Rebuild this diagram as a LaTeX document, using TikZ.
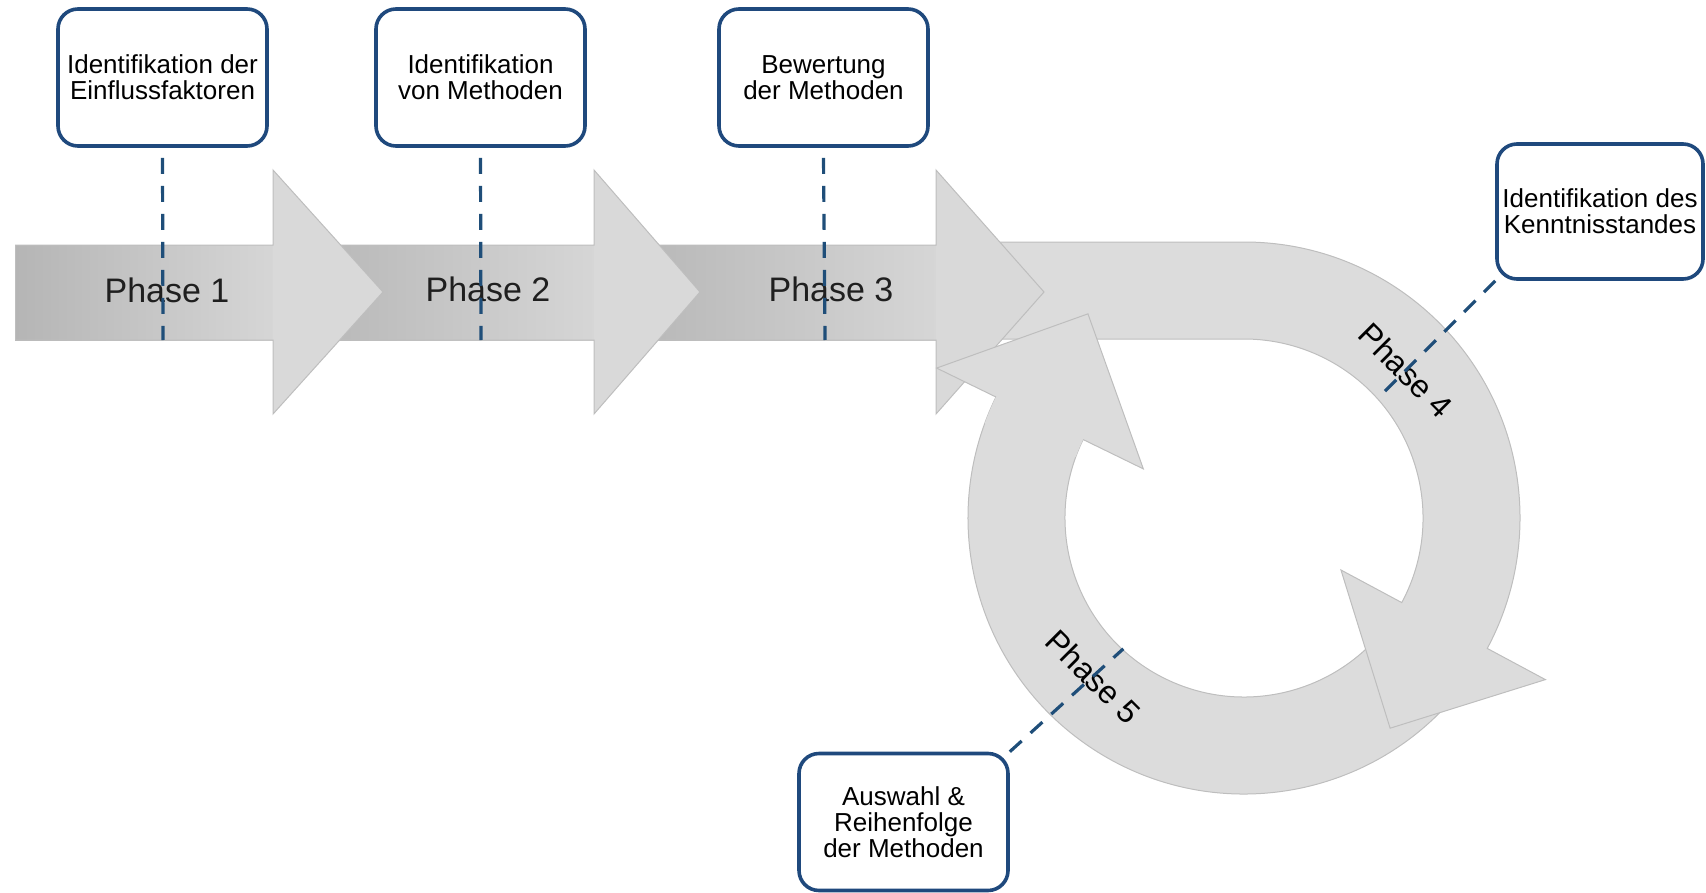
\documentclass[tikz,border=0pt]{standalone}
\usepackage{fontspec}
\setmainfont{Liberation Sans}
\usetikzlibrary{calc}

\definecolor{boxblue}{HTML}{1F497D}
\definecolor{linkblue}{HTML}{1F4E79}
\definecolor{headfill}{HTML}{D9D9D9}
\definecolor{ringfill}{HTML}{DCDCDC}
\definecolor{bodydark}{HTML}{B5B5B5}
\definecolor{bodylight}{HTML}{D6D6D6}
\definecolor{edgegray}{HTML}{BEBEBE}

\begin{document}
\begin{tikzpicture}[x=0.5pt, y=0.5pt,
  notebox/.style={draw=boxblue, line width=1.8pt, rounded corners=10pt, fill=white,
    minimum width=104.5pt, minimum height=68.5pt, inner sep=1pt, align=center,
    font=\fontsize{13}{13}\selectfont},
  phaselabel/.style={font=\fontsize{17}{20}\selectfont, text=black!88, inner sep=0pt},
  ringlabel/.style={font=\fontsize{16}{19}\selectfont, text=black, inner sep=0pt, rotate=-45},
  link/.style={draw=linkblue, line width=1.6pt, dash pattern=on 8pt off 6pt},
  outline/.style={draw=edgegray, line width=0.5pt},
  body/.style={left color=bodydark, right color=bodylight},
]
\useasboundingbox (0,0) rectangle (1706,-893);

\coordinate (C) at (1244,-518);

% lower half of the cycle (phase 5 body)
\filldraw[fill=ringfill, outline] ($(C)+(-35:276)$) arc[start angle=-35, end angle=-206, radius=276]
  -- ($(C)+(154:179)$) arc[start angle=154, end angle=325, radius=179] -- cycle;

% phase 4: straight band bending into the cycle
\filldraw[fill=ringfill, outline] (950,-242) -- (1244,-242)
  arc[start angle=90, end angle=-28.2, radius=276]
  -- ($(C)+(-28.2:342)$) -- ($(C)+(-55.2:256)$) -- ($(C)+(-28.2:110)$)
  -- ($(C)+(-28.2:179)$) arc[start angle=-28.2, end angle=90, radius=179]
  -- (950,-339) -- cycle;

% phase arrows 3, 2, 1 (each body tucked under the previous head)
\foreach \xa/\xb/\xt in {611/936/1044, 290/594/700, 15/273/383} {
  \shade[body] (\xa,-245) rectangle (\xb+2,-340);
  \fill[headfill] (\xb,-170) -- (\xt,-292) -- (\xb,-414) -- cycle;
  \draw[outline] (\xa,-245) -- (\xb,-245) -- (\xb,-170) -- (\xt,-292) -- (\xb,-414)
    -- (\xb,-340) -- (\xa,-340);
}
\draw[outline] (15,-245) -- (15,-340);

% phase 5 head, on top of everything it crosses
\fill[ringfill] ($(C)+(160:276)$) arc[start angle=160, end angle=154, radius=276]
  -- ($(C)+(154:342)$) -- ($(C)+(127.4:257)$) -- ($(C)+(154:112)$)
  -- ($(C)+(154:179)$) arc[start angle=154, end angle=160, radius=179] -- cycle;
\draw[outline] ($(C)+(154:276)$) -- ($(C)+(154:342)$) -- ($(C)+(127.4:257)$)
  -- ($(C)+(154:112)$) -- ($(C)+(154:179)$);

% phase labels
\node[phaselabel] (p1) at (167,-290) {Phase 1};
\node[phaselabel] (p2) at (488,-289) {Phase 2};
\node[phaselabel] (p3) at (831,-289) {Phase 3};
\node[ringlabel] (p4) at ($(C)+(42.4:219)$) {Phase 4};
\node[ringlabel] (p5) at ($(C)+(226.5:219)$) {Phase 5};

% activity boxes
\node[notebox] (b1) at (162.5,-77.5) {Identifikation der\\Einflussfaktoren};
\node[notebox] (b2) at (480.5,-77.5) {Identifikation\\von Methoden};
\node[notebox] (b3) at (823.5,-77.5) {Bewertung\\der Methoden};
\node[notebox, minimum width=103pt, minimum height=67.5pt] (b4) at (1600,-211.5) {Identifikation des\\Kenntnisstandes};
\node[notebox] (b5) at (903.5,-822) {Auswahl \&\\Reihenfolge\\der Methoden};

% dashed leaders from boxes into the phases
\coordinate (e1) at (163,-340);
\coordinate (e2) at (481,-340);
\coordinate (e3) at (825,-340);
\coordinate (e4) at ($(C)+(41.8:179)$);
\coordinate (e5) at ($(C)+(227.3:178)$);
\draw[link] ([yshift=-5pt]b1.south) -- (e1);
\draw[link] ([yshift=-5pt]b2.south) -- (e2);
\draw[link] ([yshift=-5pt]b3.south) -- (e3);
\draw[link] (b4.south west) -- (e4);
\draw[link] (b5.north east) -- (e5);
\end{tikzpicture}
\end{document}
